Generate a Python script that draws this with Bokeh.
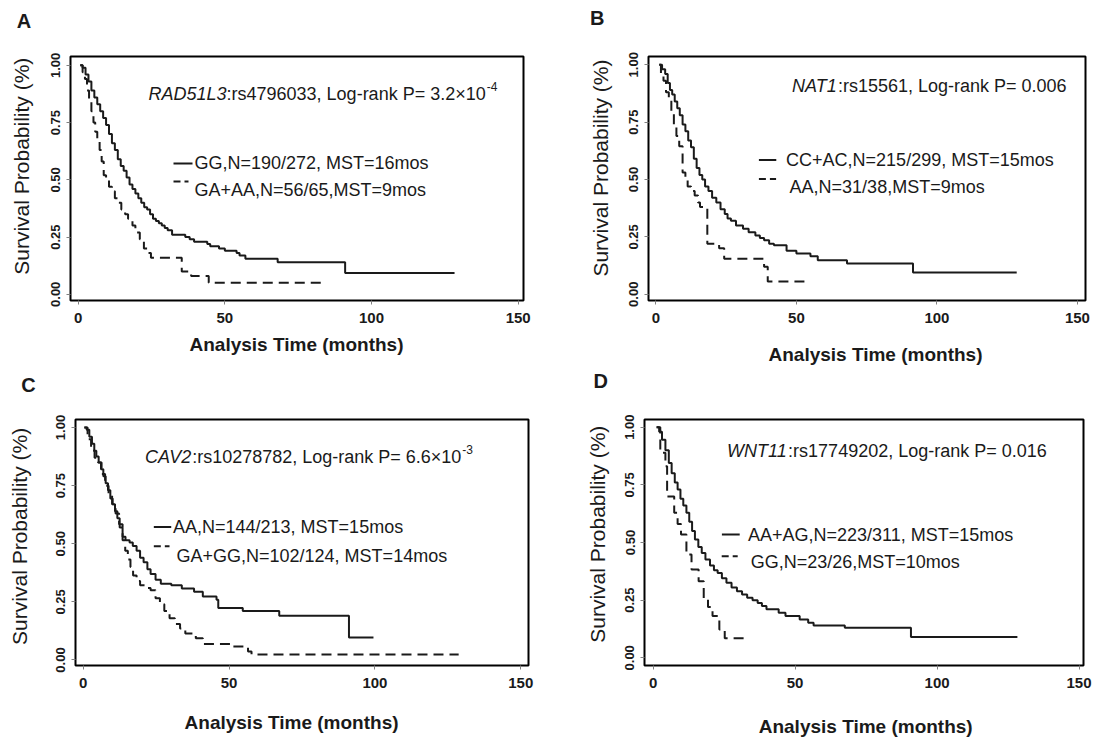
import math
from bokeh.plotting import figure
from bokeh.layouts import column, row
from bokeh.models import FixedTicker, NumeralTickFormatter, Range1d, Label
from bokeh.core.properties import value
from bokeh.embed import file_html
from bokeh.resources import INLINE

# ---------------- data ----------------
x_ticks = [0, 50, 100, 150]
y_ticks = [0.0, 0.25, 0.50, 0.75, 1.0]

# Panel A  RAD51L3:rs4796033
A_GG_time = [0.7, 1.5, 2.5, 3.5, 4.5, 5.5, 6.5, 7.5, 8.5, 9.5, 10.5, 11.5, 12.5, 13.5, 14.5, 15.5, 16.5,
             17.5, 18.5, 19.5, 20.5, 21.5, 22.5, 23.5, 24.5, 25.5, 26.5, 27.5, 28.5, 29.5, 30.5, 32, 36.5,
             38, 39.5, 44, 45, 48, 50, 54, 55, 57, 68, 91, 128.3]
A_GG_surv = [1.0, 0.99, 0.96, 0.93, 0.89, 0.86, 0.83, 0.80, 0.77, 0.74, 0.70, 0.66, 0.63, 0.59, 0.56, 0.54,
             0.51, 0.48, 0.46, 0.44, 0.42, 0.40, 0.38, 0.37, 0.35, 0.33, 0.32, 0.31, 0.30, 0.29, 0.28, 0.26,
             0.25, 0.24, 0.23, 0.22, 0.21, 0.20, 0.19, 0.18, 0.17, 0.155, 0.14, 0.093, 0.093]
A_GAAA_time = [0.7, 1.5, 2.3, 3.0, 3.7, 4.5, 5.2, 5.8, 6.5, 7.3, 8.0, 8.7, 9.5, 10.5, 11.5, 12.5, 13.5,
               14.7, 16.0, 17.0, 18.5, 19.5, 21.0, 22.4, 23.5, 24.8, 35.3, 38.5, 44.5, 84.4]
A_GAAA_surv = [1.0, 0.97, 0.94, 0.89, 0.85, 0.80, 0.75, 0.71, 0.68, 0.63, 0.58, 0.52, 0.50, 0.47, 0.45,
               0.42, 0.40, 0.37, 0.35, 0.33, 0.30, 0.27, 0.24, 0.20, 0.18, 0.16, 0.10, 0.08, 0.05, 0.05]

# Panel B  NAT1:rs15561
B_CCAC_time = [1.2, 2.2, 3.3, 4.2, 5.0, 5.8, 6.7, 7.6, 8.5, 9.5, 10.5, 11.5, 12.5, 13.5, 14.5, 15.5, 16.5,
               17.5, 18.7, 20.0, 21.5, 23.0, 24.5, 25.5, 26.7, 28.5, 31.0, 33.0, 35.4, 37.0, 38.5, 40.3,
               42.0, 46.5, 50.0, 55.0, 57.6, 68.0, 91.5, 128.4]
B_CCAC_surv = [1.0, 0.98, 0.96, 0.92, 0.89, 0.87, 0.84, 0.81, 0.78, 0.74, 0.71, 0.67, 0.64, 0.59, 0.55,
               0.52, 0.50, 0.47, 0.45, 0.42, 0.40, 0.37, 0.35, 0.33, 0.32, 0.30, 0.285, 0.27, 0.256, 0.245,
               0.235, 0.22, 0.213, 0.19, 0.177, 0.165, 0.148, 0.134, 0.095, 0.095]
B_AA_time = [1.2, 1.8, 2.7, 3.6, 4.6, 5.5, 6.4, 7.3, 8.3, 9.5, 10.5, 11.3, 12.5, 13.8, 15.0, 15.7, 18.3,
             22.5, 24.3, 38.5, 39.8, 53.9]
B_AA_surv = [1.0, 0.96, 0.93, 0.88, 0.85, 0.79, 0.73, 0.69, 0.645, 0.53, 0.50, 0.47, 0.45, 0.43, 0.40,
             0.38, 0.22, 0.20, 0.155, 0.12, 0.055, 0.055]

# Panel C  CAV2:rs10278782
C_AA_time = [0.4, 1.2, 2.1, 3.0, 3.8, 4.5, 5.3, 6.1, 6.9, 7.7, 8.5, 9.3, 10.1, 10.9, 11.7, 12.5, 13.5,
             14.5, 15.9, 17.0, 18.3, 19.5, 20.7, 22.0, 23.1, 24.8, 26.6, 30.2, 33.8, 38.0, 41.0, 45.7,
             46.3, 54.7, 67.2, 91.1, 99.5]
C_AA_surv = [1.0, 0.99, 0.96, 0.93, 0.90, 0.875, 0.85, 0.82, 0.79, 0.76, 0.73, 0.695, 0.67, 0.64, 0.61,
             0.57, 0.53, 0.515, 0.505, 0.49, 0.47, 0.44, 0.42, 0.39, 0.37, 0.345, 0.328, 0.321, 0.307,
             0.294, 0.273, 0.259, 0.224, 0.211, 0.19, 0.097, 0.097]
C_GAGG_time = [0.4, 1.5, 2.7, 3.9, 5.1, 6.3, 7.5, 8.7, 9.9, 11.1, 12.3, 13.5, 14.4, 15.3, 16.2, 17.1, 18.3,
               19.5, 21.5, 23.1, 24.8, 26.3, 27.8, 29.6, 31.4, 33.2, 35.0, 38.6, 41.0, 50.5, 56.5, 57.7,
               128.7]
C_GAGG_surv = [1.0, 0.95, 0.90, 0.87, 0.85, 0.80, 0.75, 0.71, 0.67, 0.63, 0.584, 0.515, 0.47, 0.432, 0.40,
               0.363, 0.34, 0.321, 0.31, 0.30, 0.266, 0.24, 0.211, 0.18, 0.155, 0.135, 0.114, 0.093, 0.069,
               0.058, 0.037, 0.024, 0.024]

# Panel D  WNT11:rs17749202
D_AAAG_time = [1.2, 2.1, 3.1, 4.3, 5.5, 6.5, 7.6, 8.6, 9.6, 10.6, 11.7, 12.7, 13.7, 14.7, 15.9, 17.1,
               18.4, 20.0, 21.4, 22.7, 24.2, 25.8, 27.6, 29.5, 31.3, 33.1, 35.0, 36.8, 38.3, 39.9, 44.2,
               46.6, 51.6, 54.6, 56.5, 67.5, 90.8, 128.3]
D_AAAG_surv = [1.0, 0.98, 0.946, 0.90, 0.845, 0.80, 0.76, 0.73, 0.69, 0.66, 0.629, 0.59, 0.55, 0.513,
               0.48, 0.455, 0.426, 0.40, 0.38, 0.368, 0.345, 0.325, 0.305, 0.289, 0.275, 0.26, 0.25,
               0.238, 0.225, 0.21, 0.195, 0.181, 0.166, 0.152, 0.14, 0.13, 0.09, 0.09]
D_GG_time = [1.2, 2.5, 4.3, 4.9, 7.4, 8.6, 9.8, 11.7, 13.5, 16.0, 17.8, 19.3, 20.9, 23.3, 25.2, 31.9]
D_GG_surv = [1.0, 0.889, 0.831, 0.70, 0.629, 0.58, 0.535, 0.448, 0.383, 0.332, 0.253, 0.22, 0.181,
             0.123, 0.085, 0.085]

panel_letters = ["A", "B", "C", "D"]
gene_names = ["RAD51L3", "NAT1", "CAV2", "WNT11"]
snp_texts = [":rs4796033, Log-rank P= 3.2×10", ":rs15561, Log-rank P= 0.006",
             ":rs10278782, Log-rank P= 6.6×10", ":rs17749202, Log-rank P= 0.016"]
p_exponents = ["-4", "", "-3", ""]
legend_solid = ["GG,N=190/272, MST=16mos", "CC+AC,N=215/299, MST=15mos",
                "AA,N=144/213, MST=15mos", "AA+AG,N=223/311, MST=15mos"]
legend_dashed = ["GA+AA,N=56/65,MST=9mos", "AA,N=31/38,MST=9mos",
                 "GA+GG,N=102/124, MST=14mos", "GG,N=23/26,MST=10mos"]
x_title = "Analysis Time (months)"
y_title = "Survival Probability (%)"

solid_curves = [(A_GG_time, A_GG_surv), (B_CCAC_time, B_CCAC_surv),
                (C_AA_time, C_AA_surv), (D_AAAG_time, D_AAAG_surv)]
dashed_curves = [(A_GAAA_time, A_GAAA_surv), (B_AA_time, B_AA_surv),
                 (C_GAGG_time, C_GAGG_surv), (D_GG_time, D_GG_surv)]

# ---------------- layout (page pixel geometry) ----------------
FONT = "Liberation Sans"
INK = "#1a1a1a"
FIG_W, FIG_H = 548, 369
DASH = "10 6"
LETTER_SIZE = 20

layout_cfg = [
    dict(origin=(0, 0), box=(70, 52, 523, 300), cal=(77.7, 517.7, 61, 293.7),
         annot=(148, 90), l1=(173, 192, 160.7, 194, 160.7), l2=(173, 188, 179, 194, 187.7),
         letter=(23.5, 16), xtitle=(296, 345), ytitle=(21, 163.5)),
    dict(origin=(548, 0), box=(648.3, 56, 1085.7, 301), cal=(655.7, 1077.6, 64.3, 294.7),
         annot=(791.9, 85.7), l1=(758.8, 776.2, 160, 786, 160), l2=(758.8, 776, 179, 789.5, 187.3),
         letter=(597, 17), xtitle=(875.5, 355), ytitle=(600, 168)),
    dict(origin=(0, 369), box=(75, 410.7, 527.9, 665), cal=(82.7, 520.2, 419, 659.3),
         annot=(144.6, 449), l1=(153.3, 170.7, 521.7, 172.5, 521.7), l2=(153.3, 169, 541.7, 176, 552),
         letter=(28, 376), xtitle=(291, 724), ytitle=(19, 531.5)),
    dict(origin=(548, 369), box=(643.8, 419, 1082.8, 665), cal=(652.5, 1078.3, 426.7, 657.3),
         annot=(726.4, 450.7), l1=(721.2, 739, 534, 747.3, 534), l2=(721, 737, 555.7, 750, 561.7),
         letter=(600, 380), xtitle=(865, 726), ytitle=(597, 533.7)),
]

# Arial / Liberation Sans advance widths (1/1000 em) for offsetting mixed-style text
_W = {' ': 278, ',': 278, '-': 333, '.': 278, '/': 278, ':': 278, '=': 584, '+': 584, '×': 584,
      'A': 667, 'B': 722, 'C': 722, 'D': 722, 'G': 778, 'L': 556, 'M': 833, 'N': 722, 'P': 667,
      'R': 722, 'S': 667, 'T': 611, 'V': 667, 'W': 944, 'a': 556, 'g': 556, 'k': 500, 'n': 556,
      'o': 556, 'r': 333, 's': 500, 'm': 833}


def textw(s, size):
    return sum(_W.get(c, 556) for c in s) * size / 1000.0


TXT = 18  # annotation / legend font size (px)


def build(i):
    cfg = layout_cfg[i]
    ox, oy = cfg["origin"]
    L, T, R, B = cfg["box"]
    x0, x150, y1, y0 = cfg["cal"]
    sx = (x150 - x0) / 150.0
    sy = (y0 - y1)

    def dx(px):
        return (px - x0) / sx

    def dy(py):
        return (y0 - py) / sy

    left = int(round(L - ox))
    top = int(round(T - oy))
    fw = int(round(R - L))
    fh = int(round(B - T))
    p = figure(width=FIG_W, height=FIG_H, output_backend="svg", toolbar_location=None,
               x_range=Range1d(dx(L), dx(R)), y_range=Range1d(dy(B), dy(T)),
               min_border_left=left, min_border_top=top,
               min_border_right=FIG_W - left - fw, min_border_bottom=FIG_H - top - fh)
    p.title.visible = False
    p.grid.visible = False
    p.background_fill_color = "white"
    p.border_fill_color = "white"
    p.outline_line_color = "black"
    p.outline_line_width = 2
    p.outline_line_alpha = 1.0

    # panel letter, placed in the top border panel
    lx, lyy = cfg["letter"]
    p.add_layout(Label(x=dx(lx), y=(T - oy) - (lyy - oy), x_units="data", y_units="screen",
                       text=panel_letters[i], text_font=FONT, text_font_style="bold",
                       text_font_size=f"{LETTER_SIZE}px", text_color=INK,
                       text_align="center", text_baseline="middle"), "above")

    for ax in (p.xaxis[0], p.yaxis[0]):
        ax.axis_line_color = None
        ax.minor_tick_line_color = None
        ax.major_tick_line_color = "#808080"
        ax.major_tick_line_width = 1
        ax.major_tick_in = 0
        ax.major_tick_out = 4
        ax.major_label_text_font = FONT
        ax.major_label_text_font_style = "bold"
        ax.major_label_text_color = INK

    xa = p.xaxis[0]
    xa.ticker = FixedTicker(ticks=x_ticks)
    xa.major_label_text_font_size = "15px"
    xa.major_label_standoff = 8

    ya = p.yaxis[0]
    ya.ticker = FixedTicker(ticks=y_ticks)
    ya.formatter = NumeralTickFormatter(format="0.00")
    ya.major_label_text_font_size = "13px"
    ya.major_label_orientation = "vertical"
    ya.major_label_standoff = 6

    # axis titles, placed in the border panels
    xtx, xty = cfg["xtitle"]
    p.add_layout(Label(x=dx(xtx), y=dy(xty), text=x_title, text_font=FONT, text_font_style="bold",
                       text_font_size="19px", text_color=INK, text_align="center",
                       text_baseline="middle"), "below")
    ytx, yty = cfg["ytitle"]
    p.add_layout(Label(x=dx(ytx), y=dy(yty), text=y_title, angle=math.pi / 2, text_font=FONT,
                       text_font_style="normal", text_font_size="21px", text_color=INK,
                       text_align="center", text_baseline="middle"), "left")

    # survival curves
    st, ss = solid_curves[i]
    dt, ds = dashed_curves[i]
    p.step(st, ss, mode="after", line_color=INK, line_width=2)
    p.step(dt, ds, mode="after", line_color=INK, line_width=2, line_dash=DASH)

    # gene / log-rank annotation (italic gene + regular text + superscript)
    ax_, ay_ = cfg["annot"]
    tx, ty = dx(ax_), dy(ay_)
    common = dict(text_font=value(FONT), text_color=INK, text_align="left", text_baseline="middle")
    p.text(x=[tx], y=[ty], text=[gene_names[i]], text_font_style="italic",
           text_font_size=f"{TXT}px", **common)
    off = textw(gene_names[i], TXT)
    p.text(x=[tx], y=[ty], text=[snp_texts[i]], x_offset=off, text_font_style="normal",
           text_font_size=f"{TXT}px", **common)
    off += textw(snp_texts[i], TXT)
    if p_exponents[i]:
        p.text(x=[tx], y=[ty], text=[p_exponents[i]], x_offset=off + 1, y_offset=-7,
               text_font_style="normal", text_font_size="12px", **common)

    # legend
    a, b, ly, txp, typ = cfg["l1"]
    p.line([dx(a), dx(b)], [dy(ly), dy(ly)], line_color=INK, line_width=2)
    p.text(x=[dx(txp)], y=[dy(typ)], text=[legend_solid[i]], text_font_style="normal",
           text_font_size=f"{TXT}px", **common)
    a, b, ly, txp, typ = cfg["l2"]
    p.line([dx(a), dx(b)], [dy(ly), dy(ly)], line_color=INK, line_width=2, line_dash="7 4")
    p.text(x=[dx(txp)], y=[dy(typ)], text=[legend_dashed[i]], text_font_style="normal",
           text_font_size=f"{TXT}px", **common)
    return p


pA, pB, pC, pD = [build(i) for i in range(4)]
layout = column(row(pA, pB), row(pC, pD))

open("out.html", "w").write(file_html(layout, INLINE))
